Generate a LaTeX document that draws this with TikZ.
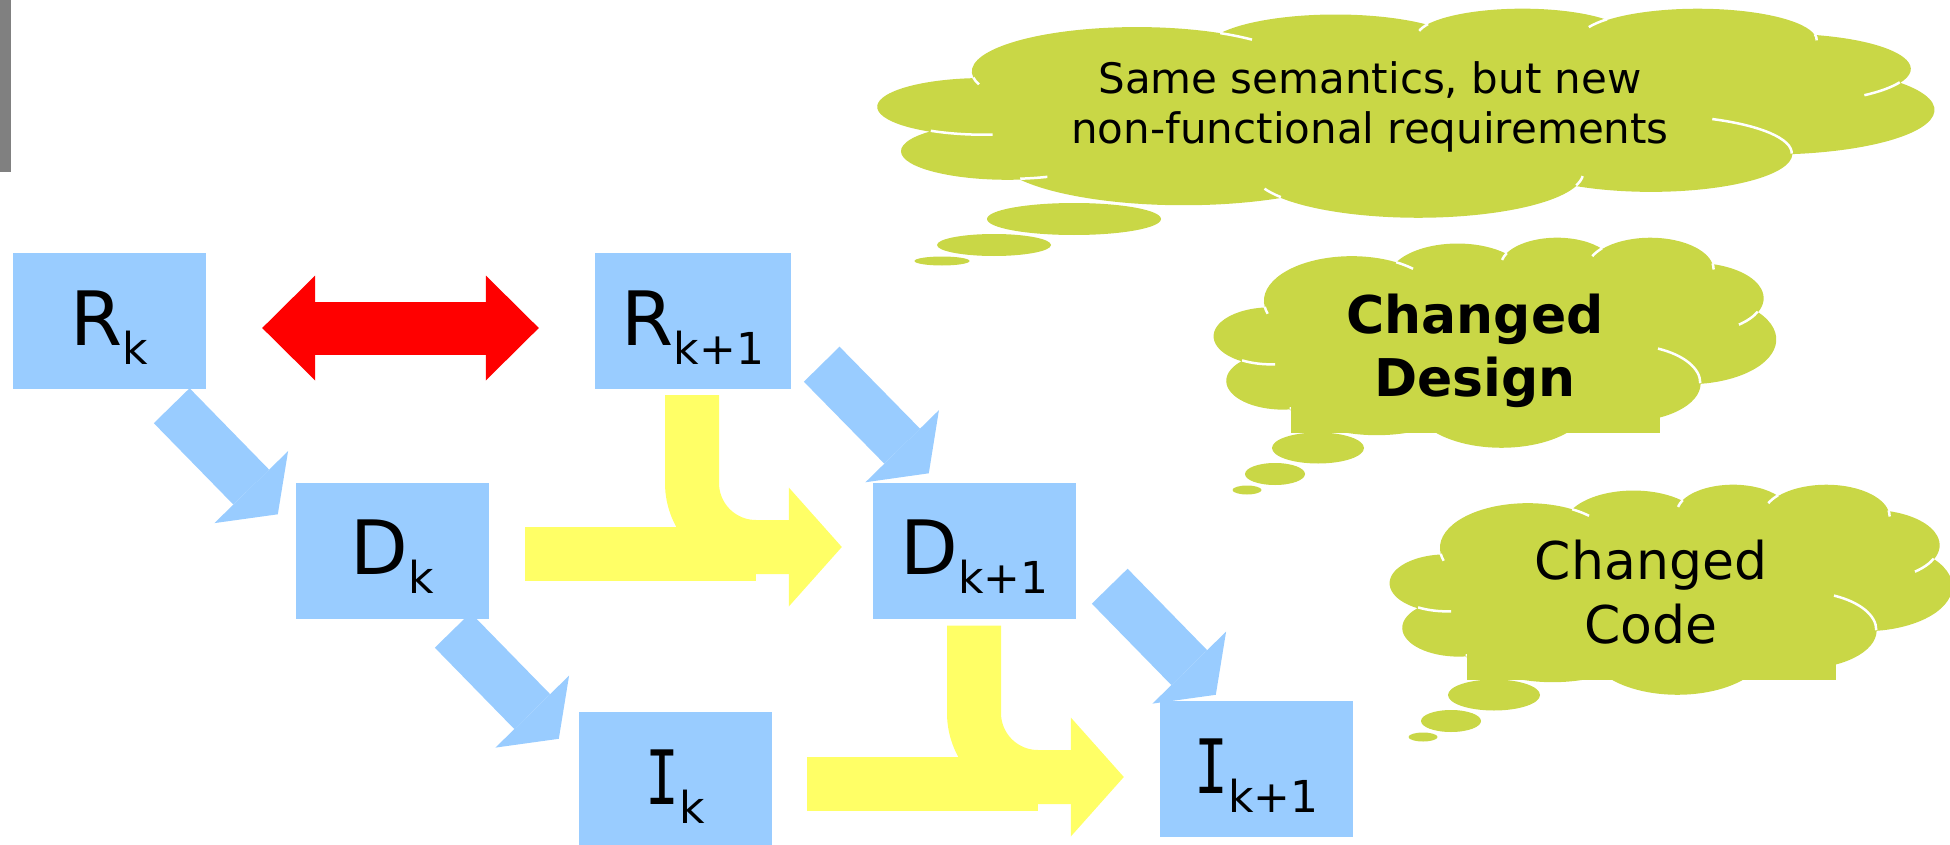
\documentclass[tikz,border=0pt]{standalone}
\usepackage{fontspec}
\setmainfont{DejaVu Sans}
\newfontfamily\fonteI[FakeStretch=0.75]{DejaVu Sans Mono}
\usetikzlibrary{arrows.meta}

\definecolor{azulcaixa}{RGB}{153,204,255}
\definecolor{amarelo}{RGB}{255,255,102}
\definecolor{verdenuvem}{RGB}{201,215,70}
\definecolor{cinza}{RGB}{128,128,128}

% Letra com indice
\newcommand{\rotulo}[2]{#1\raisebox{-19pt}{\fontsize{44pt}{44pt}\selectfont #2}}

% Nuvem numa caixa 100 x 100
\newcommand{\nuvem}{%
	\fill[verdenuvem] (9.028,33.264)
		arc[x radius=15.632, y radius=21.273, start angle=172.255, delta angle=128.125]
		arc[x radius=12.345, y radius=16.822, start angle=-152.04, delta angle=106.58]
		arc[x radius=10.104, y radius=13.762, start angle=-153.50, delta angle=116.18]
		arc[x radius=11.243, y radius=15.266, start angle=-139.71, delta angle=129.50]
		arc[x radius=12.345, y radius=16.836, start angle=-74.77, delta angle=97.98]
		arc[x radius=15.683, y radius=21.343, start angle=-37.52, delta angle=119.38]
		arc[x radius=13.391, y radius=18.211, start angle=0.46, delta angle=121.52]
		arc[x radius=15.630, y radius=21.331, start angle=16.84, delta angle=129.39]
		arc[x radius=17.870, y radius=24.405, start angle=58.99, delta angle=91.19]
		arc[x radius=10.093, y radius=13.699, start angle=83.31, delta angle=139.78]
		arc[x radius=10.058, y radius=13.762, start angle=120.36, delta angle=143.75]
		-- cycle;
	\draw[white, line width=2.5pt]
		(10.863,60.595) arc[x radius=10.058, y radius=13.762, start angle=85.55, delta angle=34.81]
		(16.037,80.785) arc[x radius=10.093, y radius=13.699, start angle=68.23, delta angle=15.08]
		(38.144,90.486) arc[x radius=15.630, y radius=21.331, start angle=146.23, delta angle=12.24]
		(66.729,80.442) arc[x radius=15.630, y radius=21.331, start angle=4.74, delta angle=12.10]
		(79.002,53.134) arc[x radius=13.391, y radius=18.211, start angle=-64.02, delta angle=64.48]
		(96.755,35.542) arc[x radius=12.345, y radius=16.836, start angle=23.21, delta angle=26.43]
		(88.713,12.560) arc[x radius=11.243, y radius=15.266, start angle=-10.21, delta angle=11.03]
		(67.310,9.148) arc[x radius=11.243, y radius=15.266, start angle=-156.29, delta angle=16.58]
		(51.252,10.926) arc[x radius=10.104, y radius=13.762, start angle=-167.72, delta angle=14.22]
		(32.407,12.019) arc[x radius=15.632, y radius=21.273, start angle=-59.62, delta angle=13.89]
		(9.553,36.549) arc[x radius=15.632, y radius=21.273, start angle=163.19, delta angle=9.06];
}

\begin{document}
\begin{tikzpicture}[x=1pt, y=-1pt,
	caixa/.style={fill=azulcaixa, minimum width=193pt, minimum height=136pt, inner sep=0pt,
		text height=48pt, text depth=0pt, font=\fontsize{75pt}{90pt}\selectfont},
	setaazul/.style={draw=azulcaixa, line width=50pt,
		-{Triangle[length=38pt, width=103pt, line width=0pt]}},
	setavermelha/.style={draw=red, line width=53pt,
		{Triangle[length=53pt, width=105pt, line width=0pt]}-{Triangle[length=53pt, width=105pt, line width=0pt]}},
	setaamarela/.style={draw=amarelo, line width=54pt, rounded corners=64pt,
		-{Triangle[length=53pt, width=119pt, line width=0pt]}},
	barraamarela/.style={draw=amarelo, line width=54pt},
	textonuvem/.style={align=center, inner sep=0pt}]
	\useasboundingbox (0,0) rectangle (1950,845);
	\fill[cinza] (0,0) rectangle (11,172);									% Barra

	% Nuvens
	\begin{scope}[shift={(878,8)}, xscale=10.56, yscale=2.09]
		\nuvem
	\end{scope}
	\fill[verdenuvem] (1074,219) ellipse [x radius=87, y radius=16];
	\fill[verdenuvem] (994,245) ellipse [x radius=57, y radius=11];
	\fill[verdenuvem] (942,261) ellipse [x radius=27.5, y radius=4.5];
	\node[textonuvem, font=\fontsize{42pt}{50pt}\selectfont] (semantica) at (1370,107)
		{Same semantics, but new\\non-functional requirements};

	\begin{scope}[shift={(1214,237)}, xscale=5.62, yscale=2.10]
		\nuvem
		\fill[verdenuvem] (13.70,75.2) rectangle (79.36,93.3);
	\end{scope}
	\fill[verdenuvem] (1318,448) ellipse [x radius=46, y radius=15.5];
	\fill[verdenuvem] (1275,474) ellipse [x radius=30, y radius=11];
	\fill[verdenuvem] (1247,490) ellipse [x radius=14.5, y radius=4.5];
	\node[textonuvem, font=\fontsize{52pt}{63pt}\selectfont\bfseries] (design) at (1475,351)
		{Changed\\Design};

	\begin{scope}[shift={(1390,484)}, xscale=5.62, yscale=2.10]
		\nuvem
		\fill[verdenuvem] (13.70,75.2) rectangle (79.36,93.3);
	\end{scope}
	\fill[verdenuvem] (1494,695) ellipse [x radius=46, y radius=15.5];
	\fill[verdenuvem] (1451,721) ellipse [x radius=30, y radius=11];
	\fill[verdenuvem] (1423,737) ellipse [x radius=14.5, y radius=4.5];
	\node[textonuvem, font=\fontsize{52pt}{64pt}\selectfont] (codigo) at (1651,592)
		{Changed\\Code};

	% Caixas
	\node[caixa] (rk) at (109.5,321) {\rotulo{R}{k}};
	\node[caixa, minimum width=196pt] (rk1) at (693,321) {\rotulo{R}{k+1}};
	\node[caixa] (dk) at (392.5,550.5) {\rotulo{D}{k}};
	\node[caixa, minimum width=203pt] (dk1) at (974.5,550.5) {\rotulo{D}{k+1}};
	\node[caixa] (ik) at (675.5,780) {\rotulo{{\fonteI I}}{k}};
	\node[caixa] (ik1) at (1256.5,769) {\rotulo{{\fonteI I}}{k+1}};

	% Setas amarelas
	\draw[barraamarela] ([shift={(36,3.5)}]dk.east) -- ([shift={(-117,3.5)}]dk1.west);
	\draw[setaamarela] ([shift={(-1,6)}]rk1.south) |- ([shift={(-31,-3.5)}]dk1.west);
	\draw[barraamarela] ([shift={(35,4)}]ik.east) -- ([shift={(-122,15)}]ik1.west);
	\draw[setaamarela] ([shift={(-0.5,7)}]dk1.south) |- ([shift={(-36,8)}]ik1.west);

	% Setas azuis
	\draw[setaazul] ([shift={(-34.5,16.5)}]rk.south east) -- ([shift={(-18,32)}]dk.north west);
	\draw[setaazul] ([shift={(30.5,-25)}]rk1.south east) -- ([shift={(56,-9)}]dk1.north west);
	\draw[setaazul] ([shift={(-36.5,11.5)}]dk.south east) -- ([shift={(-20,27)}]ik.north west);
	\draw[setaazul] ([shift={(33.5,-32.5)}]dk1.south east) -- ([shift={(56,-6)}]ik1.north west);

	% Seta vermelha
	\draw[setavermelha] ([shift={(56,7)}]rk.east) -- ([shift={(-56,7)}]rk1.west);
\end{tikzpicture}
\end{document}
